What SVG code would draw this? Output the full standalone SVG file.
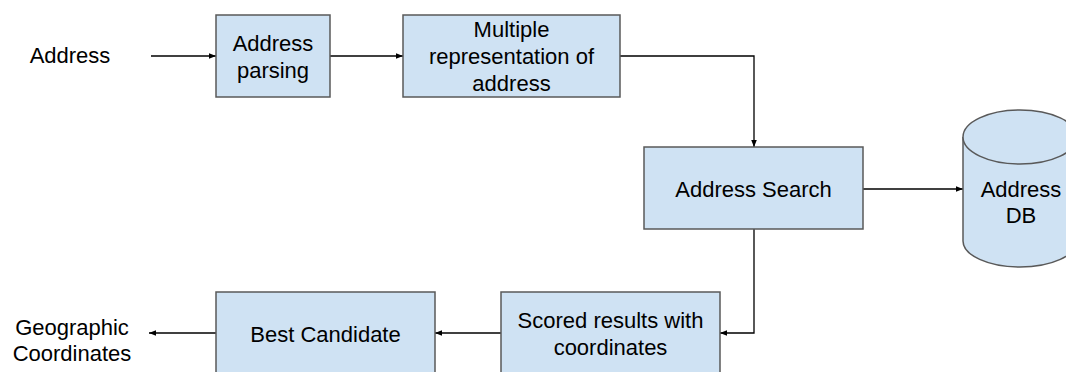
<svg xmlns="http://www.w3.org/2000/svg" width="1066" height="372" viewBox="0 0 1066 372">
  <defs>
    <marker id="arrow" viewBox="0 0 10 10" refX="10" refY="5" markerWidth="7" markerHeight="7" markerUnits="userSpaceOnUse" orient="auto">
      <path d="M0,1 L10,5 L0,9 Z" fill="#000"/>
    </marker>
    <style>
      .box { fill: #cfe2f3; stroke: #595959; stroke-width: 1.5; }
      .label { font-family: "Liberation Sans", Arial, sans-serif; font-size: 22px; fill: #000; text-anchor: middle; }
      .edge { fill: none; stroke: #000; stroke-width: 1.3; marker-end: url(#arrow); }
    </style>
  </defs>
  <rect width="1066" height="372" fill="#fff"/>

  <!-- connectors -->
  <g id="connectors">
    <path class="edge" d="M151,56 H216"/>
    <path class="edge" d="M330,56 H403"/>
    <path class="edge" d="M620,56 H754 V147"/>
    <path class="edge" d="M863,189 H963"/>
    <path class="edge" d="M754,229 V333 H720"/>
    <path class="edge" d="M501,333 H435"/>
    <path class="edge" d="M216,333 H149"/>
  </g>

  <!-- input label -->
  <g id="input">
    <text class="label" x="70" y="63">Address</text>
  </g>

  <g id="parsing">
    <rect class="box" x="216" y="15" width="114" height="82"/>
    <text class="label" x="273" y="51">Address</text>
    <text class="label" x="273" y="78">parsing</text>
  </g>

  <g id="representation">
    <rect class="box" x="403" y="15" width="217" height="82"/>
    <text class="label" x="511.5" y="37">Multiple</text>
    <text class="label" x="511.5" y="64">representation of</text>
    <text class="label" x="511.5" y="91">address</text>
  </g>

  <g id="search">
    <rect class="box" x="644" y="147" width="219" height="82"/>
    <text class="label" x="753.5" y="197">Address Search</text>
  </g>

  <g id="database">
    <path class="box" d="M963,137 V241 A57,26 0 0 0 1077,241 V137 A57,27 0 0 0 963,137 Z"/>
    <path class="box" d="M963,137 A57,27 0 0 0 1077,137" fill="none"/>
    <text class="label" x="1021" y="197">Address</text>
    <text class="label" x="1021" y="223">DB</text>
  </g>

  <g id="scored">
    <rect class="box" x="501" y="292" width="219" height="82"/>
    <text class="label" x="610.5" y="328">Scored results with</text>
    <text class="label" x="610.5" y="355">coordinates</text>
  </g>

  <g id="best">
    <rect class="box" x="216" y="292" width="219" height="82"/>
    <text class="label" x="325.5" y="342">Best Candidate</text>
  </g>

  <g id="output">
    <text class="label" x="72" y="335">Geographic</text>
    <text class="label" x="72" y="361">Coordinates</text>
  </g>
</svg>
